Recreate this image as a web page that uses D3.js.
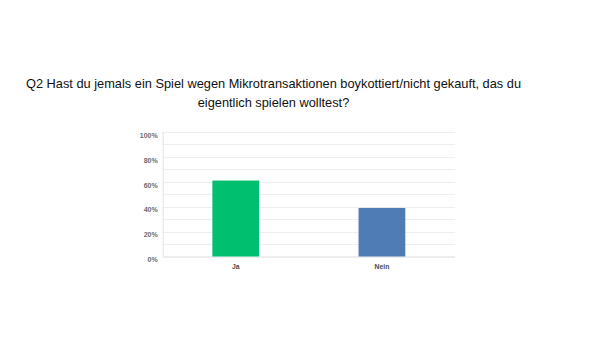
<!DOCTYPE html>
<html><head><meta charset="utf-8">
<script src="https://cdn.jsdelivr.net/npm/d3@7"></script>
<style>html,body{margin:0;padding:0;background:#fff;}svg{display:block;}</style>
</head><body>
<svg id="chart" width="600" height="338"></svg>
<script>
const titleLines = ["Q2 Hast du jemals ein Spiel wegen Mikrotransaktionen boykottiert/nicht gekauft, das du", "eigentlich spielen wolltest?"];
const categories = ["Ja", "Nein"];
const values = [61, 39];
const colors = ["#00BF6F", "#507CB6"];
const tickValues = [0, 20, 40, 60, 80, 100];
const gridValues = [0, 10, 20, 30, 40, 50, 60, 70, 80, 90, 100];

(function () {
const svg = d3.select("#chart");
const pLeft = 162.7, pRight = 455, pTop = 132, pBottom = 256.5;

svg.append("g").selectAll("text").data(titleLines).join("text")
  .attr("x", 273.5).attr("y", (d, i) => 88 + i * 19)
  .attr("text-anchor", "middle")
  .attr("font-family", "Liberation Sans, Arial, sans-serif")
  .attr("font-size", 12.8).attr("fill", "#111")
  .text(d => d);

const y = d3.scaleLinear().domain([0, 100]).range([pBottom, pTop]);
const x = d3.scaleBand().domain(categories).range([pLeft, pRight]).paddingInner(0.68).paddingOuter(0.34);

svg.append("g").selectAll("line").data(gridValues.filter(v => v > 0)).join("line")
  .attr("x1", pLeft).attr("x2", pRight)
  .attr("y1", d => Math.round(y(d)) + 0.5).attr("y2", d => Math.round(y(d)) + 0.5)
  .attr("stroke", "#efefef").attr("stroke-width", 1);

svg.append("line").attr("x1", pLeft + 0.5).attr("x2", pLeft + 0.5).attr("y1", pTop).attr("y2", pBottom)
  .attr("stroke", "#e2e2e2");
svg.append("line").attr("x1", pLeft).attr("x2", pRight).attr("y1", pBottom + 0.5).attr("y2", pBottom + 0.5)
  .attr("stroke", "#dcdcdc");

const yAxis = d3.axisLeft(y).tickValues(tickValues).tickSize(0).tickPadding(5).tickFormat(d => d + "%");
const ya = svg.append("g").attr("transform", `translate(${pLeft},0)`).call(yAxis);
ya.select(".domain").remove();
ya.selectAll("text").attr("font-family", "Liberation Sans, Arial, sans-serif").attr("font-size", 7)
  .attr("font-weight", "bold").attr("fill", "#6a6a6a").attr("dy", "0.75em");

svg.append("g").selectAll("rect").data(categories).join("rect")
  .attr("x", d => x(d)).attr("width", x.bandwidth())
  .attr("y", (d, i) => y(values[i])).attr("height", (d, i) => pBottom - y(values[i]))
  .attr("fill", (d, i) => colors[i]);

const xAxis = d3.axisBottom(x).tickSize(0).tickPadding(8);
const xa = svg.append("g").attr("transform", `translate(0,${pBottom})`).call(xAxis);
xa.select(".domain").remove();
xa.selectAll("text").attr("font-family", "Liberation Sans, Arial, sans-serif").attr("font-size", 6.8)
  .attr("font-weight", "bold").attr("fill", "#4a4a4a");
})();
</script>
</body></html>
